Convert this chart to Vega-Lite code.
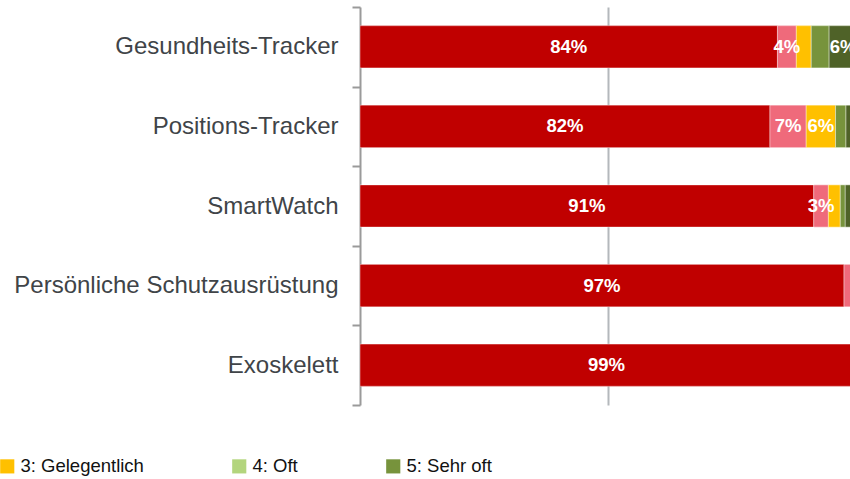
{
  "$schema": "https://vega.github.io/schema/vega-lite/v6.json",
  "autosize": "none",
  "width": 490,
  "height": 398,
  "padding": {"left": 360, "top": 7, "right": 0, "bottom": 74},
  "background": "white",
  "config": {"view": {"stroke": null}, "font": "Liberation Sans"},
  "data": {
    "values": [
      {"item": "Gesundheits-Tracker", "cat": "1: Nie", "value": 84.0, "labeled": true},
      {"item": "Gesundheits-Tracker", "cat": "2: Selten", "value": 3.8, "labeled": true},
      {"item": "Gesundheits-Tracker", "cat": "3: Gelegentlich", "value": 3.0, "labeled": false},
      {"item": "Gesundheits-Tracker", "cat": "4: Oft", "value": 3.6, "labeled": false},
      {"item": "Gesundheits-Tracker", "cat": "5: Sehr oft", "value": 5.6, "labeled": true},
      {"item": "Positions-Tracker", "cat": "1: Nie", "value": 82.49, "labeled": true},
      {"item": "Positions-Tracker", "cat": "2: Selten", "value": 7.3, "labeled": true},
      {"item": "Positions-Tracker", "cat": "3: Gelegentlich", "value": 5.9, "labeled": true},
      {"item": "Positions-Tracker", "cat": "4: Oft", "value": 2.1, "labeled": false},
      {"item": "Positions-Tracker", "cat": "5: Sehr oft", "value": 2.21, "labeled": false},
      {"item": "SmartWatch", "cat": "1: Nie", "value": 91.3, "labeled": true},
      {"item": "SmartWatch", "cat": "2: Selten", "value": 2.95, "labeled": true},
      {"item": "SmartWatch", "cat": "3: Gelegentlich", "value": 2.4, "labeled": false},
      {"item": "SmartWatch", "cat": "4: Oft", "value": 1.0, "labeled": false},
      {"item": "SmartWatch", "cat": "5: Sehr oft", "value": 2.35, "labeled": false},
      {"item": "Persönliche Schutzausrüstung", "cat": "1: Nie", "value": 97.4, "labeled": true},
      {"item": "Persönliche Schutzausrüstung", "cat": "2: Selten", "value": 1.4, "labeled": false},
      {"item": "Persönliche Schutzausrüstung", "cat": "3: Gelegentlich", "value": 0.6, "labeled": false},
      {"item": "Persönliche Schutzausrüstung", "cat": "4: Oft", "value": 0.3, "labeled": false},
      {"item": "Persönliche Schutzausrüstung", "cat": "5: Sehr oft", "value": 0.3, "labeled": false},
      {"item": "Exoskelett", "cat": "1: Nie", "value": 99.2, "labeled": true},
      {"item": "Exoskelett", "cat": "2: Selten", "value": 0.4, "labeled": false},
      {"item": "Exoskelett", "cat": "3: Gelegentlich", "value": 0.2, "labeled": false},
      {"item": "Exoskelett", "cat": "4: Oft", "value": 0.1, "labeled": false},
      {"item": "Exoskelett", "cat": "5: Sehr oft", "value": 0.1, "labeled": false}
    ]
  },
  "transform": [
    {"stack": "value", "groupby": ["item"], "sort": [{"field": "cat", "order": "ascending"}], "as": ["x0", "x1"]},
    {"calculate": "(datum.x0 + datum.x1) / 2", "as": "xm"},
    {"calculate": "format(datum.value, '.0f') + '%'", "as": "label"}
  ],
  "encoding": {
    "y": {
      "field": "item",
      "type": "nominal",
      "sort": ["Gesundheits-Tracker", "Positions-Tracker", "SmartWatch", "Persönliche Schutzausrüstung", "Exoskelett"],
      "scale": {"paddingInner": 0, "paddingOuter": 0},
      "axis": {
        "title": null,
        "labelFontSize": 24,
        "labelColor": "#404448",
        "labelPadding": 14,
        "labelLimit": 400,
        "tickSize": 8,
        "tickColor": "#9A9A9A",
        "tickWidth": 2,
        "domainColor": "#9A9A9A",
        "domainWidth": 2,
        "tickBand": "extent"
      }
    },
    "x": {
      "field": "x0",
      "type": "quantitative",
      "scale": {"domain": [0, 98.6], "nice": false, "zero": false},
      "axis": {"values": [50], "grid": true, "gridColor": "#B4B8BC", "gridWidth": 2, "domain": false, "ticks": false, "labels": false, "title": null}
    },
    "x2": {"field": "x1"}
  },
  "layer": [
    {
      "mark": {"type": "bar", "clip": true, "height": {"band": 0.53}},
      "encoding": {
        "fill": {
          "field": "cat",
          "type": "nominal",
          "scale": {"range": ["#C00000", "#EF6A7B", "#FFC000", "#B3D57D", "#77933C"]},
          "legend": {
            "orient": "none",
            "legendX": -701,
            "legendY": 450,
            "direction": "horizontal",
            "title": null,
            "symbolType": "square",
            "symbolSize": 200,
            "symbolStrokeWidth": 0,
            "labelFontSize": 18.5,
            "labelColor": "#111111",
            "labelOffset": 4,
            "columnPadding": 86,
            "padding": 0,
            "labelLimit": 300
          }
        }
      }
    },
    {
      "mark": {"type": "bar", "clip": true, "height": {"band": 0.53}, "stroke": "white", "strokeWidth": 0.6, "strokeOpacity": 0.7},
      "encoding": {
        "color": {
          "field": "cat",
          "type": "nominal",
          "scale": {
            "domain": ["1: Nie", "2: Selten", "3: Gelegentlich", "4: Oft", "5: Sehr oft"],
            "range": ["#C00000", "#EF6A7B", "#FFC000", "#77933C", "#4F6228"]
          },
          "legend": null
        }
      }
    },
    {
      "transform": [{"filter": "datum.labeled"}],
      "mark": {"type": "text", "clip": true, "color": "white", "fontWeight": "bold", "fontSize": 18.5, "align": "center", "baseline": "middle"},
      "encoding": {
        "x": {"field": "xm", "type": "quantitative"},
        "x2": null,
        "text": {"field": "label", "type": "nominal"}
      }
    }
  ]
}
